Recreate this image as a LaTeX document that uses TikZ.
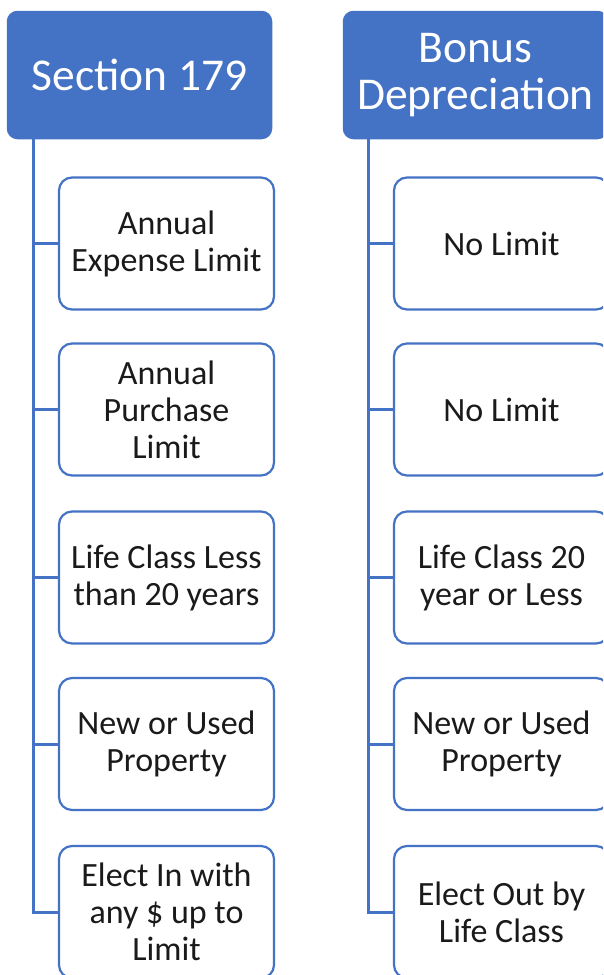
\documentclass[tikz,border=0pt]{standalone}
\usepackage{fontspec}
\setmainfont{Carlito}
\definecolor{obl}{HTML}{4472C4}
\definecolor{txt}{HTML}{1A1A1A}
\tikzset{
  hdr/.style={draw=obl, fill=obl, line width=1.5pt, rounded corners=10pt, minimum width=264pt, minimum height=127pt, align=center, text=white, font=\fontsize{45.5}{47}\selectfont, inner sep=0pt},
  itembox/.style={draw=obl, fill=white, line width=2.2pt, rounded corners=13pt, minimum width=215pt, minimum height=132pt, align=center, text=txt, font=\fontsize{34}{37}\selectfont, inner sep=0pt},
  conn/.style={draw=obl, line width=3pt}
}
\begin{document}
\begin{tikzpicture}[x=1pt,y=-1pt]
\clip (0,0) rectangle (603,975);
\fill[white] (0,0) rectangle (603,975);
% headers
\node[hdr] (lh) at (139.5,75) {Section 179};
\node[hdr] (rh) at (475.5,75) {Bonus\\Depreciation};
% left items
\node[itembox] (l1) at (166.5,243.5) {Annual\\Expense Limit};
\node[itembox] (l2) at (166.5,409.5) {Annual\\Purchase\\Limit};
\node[itembox] (l3) at (166.5,577.5) {Life Class Less\\than 20 years};
\node[itembox] (l4) at (166.5,744) {New or Used\\Property};
\node[itembox] (l5) at (166.5,912) {Elect In with\\any \$ up to\\Limit};
% right items
\node[itembox] (r1) at (501.5,243.5) {No Limit};
\node[itembox] (r2) at (501.5,409.5) {No Limit};
\node[itembox] (r3) at (501.5,577.5) {Life Class 20\\year or Less};
\node[itembox] (r4) at (501.5,744) {New or Used\\Property};
\node[itembox] (r5) at (501.5,912) {Elect Out by\\Life Class};
% trunks
\coordinate (lt) at (33,139);
\coordinate (rt) at (368,139);
\draw[conn] (lt) |- (l5.west);
\foreach \n in {1,2,3,4} \draw[conn] (l\n.west -| lt) -- (l\n.west);
\draw[conn] (rt) |- (r5.west);
\foreach \n in {1,2,3,4} \draw[conn] (r\n.west -| rt) -- (r\n.west);
\end{tikzpicture}
\end{document}
